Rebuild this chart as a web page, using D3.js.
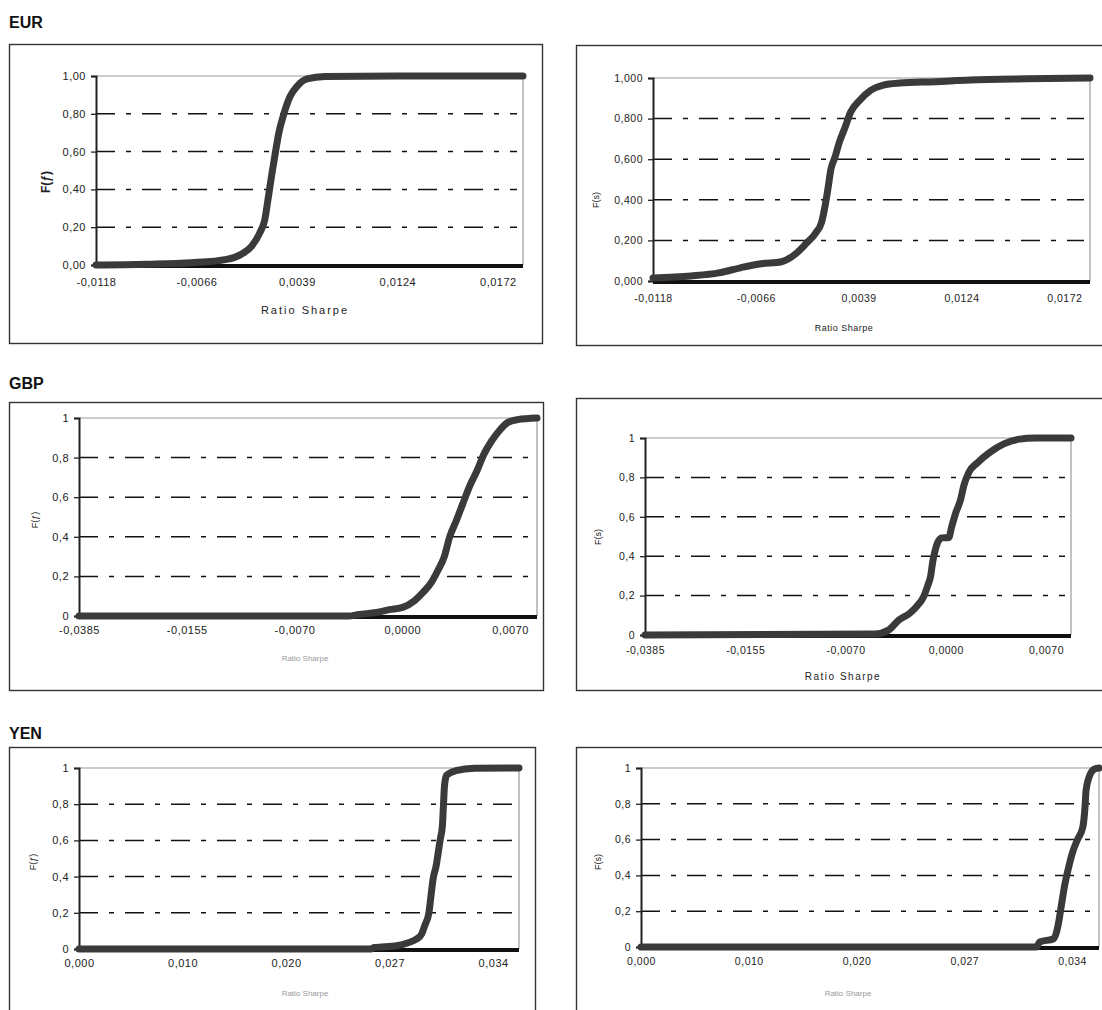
<!DOCTYPE html>
<html>
<head>
<meta charset="utf-8">
<script src="https://cdn.jsdelivr.net/npm/d3@7"></script>
<style>
  body { margin: 0; background: #fff; }
  svg { display: block; font-family: "Liberation Sans", Arial, sans-serif; }
</style>
</head>
<body>
<svg id="chart" width="1102" height="1010"></svg>
<script>
// tick labels (category axis: label i sits at position i)
const eurXTicks = ["-0,0118", "-0,0066", "0,0039", "0,0124", "0,0172"];
const gbpXTicks = ["-0,0385", "-0,0155", "-0,0070", "0,0000", "0,0070"];
const yenXTicks = ["0,000", "0,010", "0,020", "0,027", "0,034"];
const yTicks2 = ["0,00", "0,20", "0,40", "0,60", "0,80", "1,00"];
const yTicks3 = ["0,000", "0,200", "0,400", "0,600", "0,800", "1,000"];
const yTicks1 = ["0", "0,2", "0,4", "0,6", "0,8", "1"];
const yLevels = [0, 0.2, 0.4, 0.6, 0.8, 1];
const gridLevels = [0.2, 0.4, 0.6, 0.8];

// cumulative distributions, [axis position, F]
const eurF = [[0, 0], [0.5, 0.004], [0.95, 0.012], [1.3, 0.03], [1.44, 0.055], [1.55, 0.1],
  [1.63, 0.17], [1.68, 0.24], [1.71, 0.34], [1.75, 0.48], [1.79, 0.61], [1.82, 0.7],
  [1.87, 0.8], [1.93, 0.89], [2.0, 0.945], [2.1, 0.985], [2.28, 0.998], [3.0, 1], [4.25, 1]];
const eurS = [[0, 0.015], [0.37, 0.025], [0.64, 0.04], [0.85, 0.065], [1.05, 0.085], [1.25, 0.095],
  [1.39, 0.135], [1.49, 0.185], [1.58, 0.235], [1.64, 0.29], [1.67, 0.36], [1.7, 0.45],
  [1.73, 0.55], [1.77, 0.61], [1.81, 0.68], [1.87, 0.76], [1.92, 0.83], [2.01, 0.89],
  [2.12, 0.94], [2.24, 0.965], [2.4, 0.975], [2.75, 0.982], [3.08, 0.99], [3.63, 0.996], [4.25, 1]];
const gbpF = [[0, 0], [2.5, 0], [2.6, 0.008], [2.76, 0.018], [2.88, 0.032], [3.01, 0.045],
  [3.11, 0.076], [3.19, 0.118], [3.27, 0.17], [3.33, 0.23], [3.39, 0.3], [3.44, 0.4],
  [3.5, 0.48], [3.56, 0.565], [3.62, 0.65], [3.69, 0.73], [3.76, 0.82], [3.83, 0.885],
  [3.9, 0.936], [3.98, 0.978], [4.07, 0.992], [4.25, 1]];
const gbpS = [[0, 0], [2.29, 0.005], [2.43, 0.025], [2.53, 0.075], [2.64, 0.11], [2.71, 0.145],
  [2.78, 0.195], [2.82, 0.25], [2.85, 0.3], [2.87, 0.37], [2.89, 0.42], [2.92, 0.47],
  [2.96, 0.493], [3.03, 0.495], [3.06, 0.55], [3.1, 0.62], [3.15, 0.69], [3.18, 0.757],
  [3.23, 0.825], [3.32, 0.876], [3.44, 0.927], [3.58, 0.97], [3.72, 0.993], [3.9, 1], [4.25, 1]];
const yenF = [[0, 0], [2.82, 0], [2.85, 0.008], [3.07, 0.018], [3.18, 0.035], [3.26, 0.055],
  [3.31, 0.083], [3.34, 0.13], [3.38, 0.2], [3.4, 0.295], [3.42, 0.387], [3.45, 0.46],
  [3.47, 0.534], [3.49, 0.608], [3.51, 0.68], [3.52, 0.79], [3.53, 0.9], [3.55, 0.96],
  [3.64, 0.985], [3.82, 0.998], [4.25, 1]];
const yenS = [[0, 0], [3.67, 0], [3.7, 0.028], [3.83, 0.046], [3.87, 0.12], [3.9, 0.23],
  [3.93, 0.34], [3.97, 0.45], [4.0, 0.52], [4.05, 0.6], [4.1, 0.67], [4.12, 0.78],
  [4.13, 0.875], [4.17, 0.967], [4.21, 0.995], [4.25, 1]];

const svg = d3.select("#chart");

const panels = [
  { title: "EUR", titleY: 28, box: [9, 44, 533, 299], left: 96, right: 523, top: 76, bottom: 265,
    xTicks: eurXTicks, yTicks: yTicks2, data: eurF, tickSize: 11,
    yTitle: "F(ƒ)", yTitlePos: [46, 182], yTitleSize: 12, yTitleBold: true,
    xTitlePos: [305, 314], xTitleSize: 11, xTitleColor: "#222", xTitleSpacing: 2, xLabelDy: 21 },
  { box: [576, 45, 540, 300], left: 653, right: 1090, top: 78, bottom: 281,
    xTicks: eurXTicks, yTicks: yTicks3, data: eurS, tickSize: 10.5,
    yTitle: "F(s)", yTitlePos: [596, 200], yTitleSize: 9,
    xTitlePos: [844, 331], xTitleSize: 9, xTitleColor: "#222", xTitleSpacing: 0.5, xLabelDy: 21 },
  { title: "GBP", titleY: 389, box: [9, 402, 534, 288], left: 79, right: 537, top: 418, bottom: 616,
    xTicks: gbpXTicks, yTicks: yTicks1, data: gbpF, tickSize: 11,
    yTitle: "F(ƒ)", yTitlePos: [35, 520], yTitleSize: 9,
    xTitlePos: [305, 661], xTitleSize: 8, xTitleColor: "#9a9a9a", xTitleSpacing: 0, xLabelDy: 18 },
  { box: [576, 398, 540, 292], left: 645, right: 1071, top: 438, bottom: 635,
    xTicks: gbpXTicks, yTicks: yTicks1, data: gbpS, tickSize: 10.5,
    yTitle: "F(s)", yTitlePos: [598, 537], yTitleSize: 9,
    xTitlePos: [843, 680], xTitleSize: 10, xTitleColor: "#222", xTitleSpacing: 1.5, xLabelDy: 19 },
  { title: "YEN", titleY: 739, box: [9, 747, 526, 300], left: 79, right: 519, top: 768, bottom: 949,
    xTicks: yenXTicks, yTicks: yTicks1, data: yenF, tickSize: 11,
    yTitle: "F(ƒ)", yTitlePos: [33, 862], yTitleSize: 9,
    xTitlePos: [305, 996], xTitleSize: 8, xTitleColor: "#9a9a9a", xTitleSpacing: 0, xLabelDy: 18 },
  { box: [576, 747, 540, 300], left: 641, right: 1099, top: 768, bottom: 947,
    xTicks: yenXTicks, yTicks: yTicks1, data: yenS, tickSize: 10.5,
    yTitle: "F(s)", yTitlePos: [598, 862], yTitleSize: 9,
    xTitlePos: [848, 996], xTitleSize: 8, xTitleColor: "#9a9a9a", xTitleSpacing: 0, xLabelDy: 18 }
];

function drawPanel(p) {
  const g = svg.append("g");

  if (p.title) {
    g.append("text")
      .attr("x", 9).attr("y", p.titleY)
      .attr("font-size", 16).attr("font-weight", "bold").attr("fill", "#111")
      .text(p.title);
  }

  g.append("rect")
    .attr("x", p.box[0] + 0.5).attr("y", p.box[1] + 0.5)
    .attr("width", p.box[2]).attr("height", p.box[3])
    .attr("fill", "none").attr("stroke", "#333").attr("stroke-width", 1.4);

  const x = d3.scaleLinear().domain([0, 4.25]).range([p.left, p.right]);
  const y = d3.scaleLinear().domain([0, 1]).range([p.bottom, p.top]);

  // dash-dot gridlines
  g.selectAll("line.grid").data(gridLevels).join("line")
    .attr("class", "grid")
    .attr("x1", p.left).attr("x2", p.right - 6)
    .attr("y1", d => y(d)).attr("y2", d => y(d))
    .attr("stroke", "#111").attr("stroke-width", 1.5)
    .attr("stroke-dasharray", "19,11,5,11");

  // plot area frame (top / right)
  g.append("path")
    .attr("d", `M${p.left},${y(1)}H${p.right}V${y(0)}`)
    .attr("fill", "none").attr("stroke", "#9a9a9a").attr("stroke-width", 1.2);

  // y axis
  const yAxis = d3.axisLeft(y)
    .tickValues(yLevels)
    .tickFormat((d, i) => p.yTicks[i])
    .tickSize(5).tickPadding(5);
  const ya = g.append("g").attr("transform", `translate(${p.left},0)`).call(yAxis);
  ya.select(".domain").attr("stroke", "#222").attr("stroke-width", 2);
  ya.selectAll(".tick line").attr("stroke", "#222").attr("stroke-width", 1.3);
  ya.selectAll("text").attr("font-family", "Liberation Sans, Arial, sans-serif")
    .attr("font-size", p.tickSize).attr("fill", "#222").attr("letter-spacing", 0.5);

  // x axis (labels only, the baseline is drawn heavy below)
  const xAxis = d3.axisBottom(x)
    .tickValues([0, 1, 2, 3, 4])
    .tickFormat((d, i) => p.xTicks[i])
    .tickSize(0).tickPadding(0);
  const xa = g.append("g").attr("transform", `translate(0,${p.bottom})`).call(xAxis);
  xa.select(".domain").remove();
  xa.selectAll("text").attr("dy", null).attr("y", p.xLabelDy)
    .attr("font-family", "Liberation Sans, Arial, sans-serif")
    .attr("font-size", p.tickSize).attr("fill", "#222").attr("letter-spacing", 0.5);

  // heavy zero line
  g.append("line")
    .attr("x1", p.left).attr("x2", p.right)
    .attr("y1", y(0) + 1).attr("y2", y(0) + 1)
    .attr("stroke", "#111").attr("stroke-width", 4);

  // the distribution curve
  const line = d3.line()
    .x(d => x(d[0])).y(d => y(d[1]))
    .curve(d3.curveMonotoneX);
  g.append("path")
    .datum(p.data)
    .attr("d", line)
    .attr("fill", "none").attr("stroke", "#3a3a3a")
    .attr("stroke-width", 7).attr("stroke-linecap", "round").attr("stroke-linejoin", "round");

  // axis titles
  g.append("text")
    .attr("transform", `translate(${p.yTitlePos[0]},${p.yTitlePos[1]}) rotate(-90)`)
    .attr("text-anchor", "middle").attr("dy", "0.35em")
    .attr("font-size", p.yTitleSize).attr("font-weight", p.yTitleBold ? "bold" : "normal")
    .attr("fill", "#222")
    .text(p.yTitle);

  g.append("text")
    .attr("x", p.xTitlePos[0]).attr("y", p.xTitlePos[1])
    .attr("text-anchor", "middle")
    .attr("font-size", p.xTitleSize).attr("fill", p.xTitleColor)
    .attr("letter-spacing", p.xTitleSpacing)
    .text("Ratio Sharpe");
}

panels.forEach(drawPanel);
</script>
</body>
</html>
